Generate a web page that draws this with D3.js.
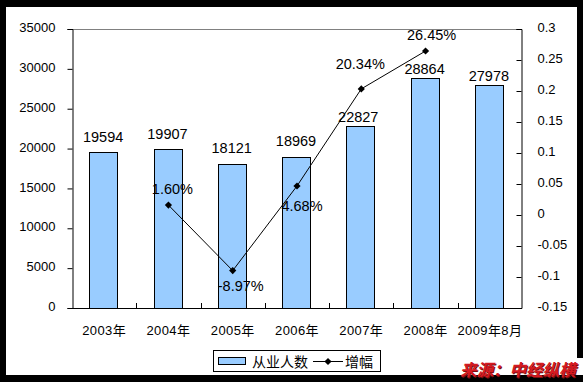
<!DOCTYPE html>
<html><head><meta charset="utf-8">
<script src="https://cdn.jsdelivr.net/npm/d3@7"></script>
<style>
html,body{margin:0;padding:0;background:#000;}
svg{display:block;}
</style></head><body>
<script>
// ---- data ----
const categories = ["2003年","2004年","2005年","2006年","2007年","2008年","2009年8月"];
const employees = [19594,19907,18121,18969,22827,28864,27978];
const growth = [null,0.016,-0.0897,0.0468,0.2034,0.2645,null];
const growthLabels = [null,"1.60%","-8.97%","4.68%","20.34%","26.45%",null];
const leftTicks = [0,5000,10000,15000,20000,25000,30000,35000];
const rightTicks = [-0.15,-0.1,-0.05,0,0.05,0.1,0.15,0.2,0.25,0.3];
const seriesNames = ["从业人数","增幅"];
const sourceText = "来源：中经纵横";

// ---- layout / style (not data) ----
const W=583,H=382;
const plot={l:72,r:522,t:29,b:308};
const barFill="#99CCFF";
const numFont="'Liberation Sans', Arial, sans-serif";
const cjkFont="'Liberation Sans', Arial, 'Noto Sans CJK SC', sans-serif";
const barLabelDy=[-10,-10,-11,-11,-4,-4,-3.5];
const barLabelDx=[0,0,0,0,-2,0,0];
const lineLabelOff=[null,[4,-11],[8,20],[5,25],[-1,-19.5],[6,-11.5],null];

const svg=d3.select("body").append("svg").attr("width",W).attr("height",H);
svg.append("rect").attr("width",W).attr("height",H).attr("fill","#000");
svg.append("rect").attr("x",6).attr("y",7).attr("width",571).attr("height",368).attr("fill","#fff");

const x=d3.scaleBand().domain(categories).range([plot.l,plot.r]).padding(0);
const y=d3.scaleLinear().domain([0,35000]).range([plot.b,plot.t]);
const y2=d3.scaleLinear().domain([-0.15,0.3]).range([plot.b,plot.t]);
const bw=x.bandwidth()*0.43;

svg.append("line").attr("x1",plot.l).attr("x2",plot.r).attr("y1",plot.t+0.5).attr("y2",plot.t+0.5)
  .attr("stroke","#808080");

svg.append("g").selectAll("rect").data(employees).join("rect")
  .attr("x",(d,i)=>Math.round(x(categories[i])+x.bandwidth()/2-bw/2-1)+0.5)
  .attr("y",d=>Math.round(y(d))+0.5)
  .attr("width",Math.round(bw))
  .attr("height",d=>plot.b-Math.round(y(d)))
  .attr("fill",barFill).attr("stroke","#000").attr("stroke-width",1);

const gl=svg.append("g").attr("transform",`translate(${plot.l+0.5},0)`)
  .call(d3.axisLeft(y).tickValues(leftTicks).tickSize(5).tickPadding(12).tickFormat(d=>String(d)));
gl.select(".domain").attr("stroke","#000");
gl.selectAll("text").attr("font-family",numFont).attr("font-size",13).attr("fill","#000").attr("dy","0.2em");
gl.selectAll(".tick line").attr("stroke","#000");

const gr=svg.append("g").attr("transform",`translate(${plot.r-0.5},0)`)
  .call(d3.axisRight(y2).tickValues(rightTicks).tickSize(-5).tickPadding(16).tickFormat(d=>String(+d.toFixed(2))));
gr.select(".domain").attr("stroke","#000");
gr.selectAll("text").attr("font-family",numFont).attr("font-size",13).attr("fill","#000").attr("dy","0.2em");
gr.selectAll(".tick line").attr("stroke","#000");

const gb=svg.append("g");
gb.append("line").attr("x1",plot.l).attr("x2",plot.r).attr("y1",plot.b+0.5).attr("y2",plot.b+0.5).attr("stroke","#000");
gb.selectAll("line.t").data(categories.slice(1)).join("line").attr("class","t")
  .attr("x1",d=>Math.round(x(d))+0.5).attr("x2",d=>Math.round(x(d))+0.5)
  .attr("y1",plot.b).attr("y2",plot.b-5).attr("stroke","#000");
gb.selectAll("text").data(categories).join("text")
  .attr("x",d=>x(d)+x.bandwidth()/2).attr("y",335)
  .attr("text-anchor","middle").attr("font-family",cjkFont).attr("font-size",13)
  .attr("letter-spacing","0.4px").text(d=>d);

svg.append("g").selectAll("text").data(employees).join("text")
  .attr("x",(d,i)=>x(categories[i])+x.bandwidth()/2-1+barLabelDx[i])
  .attr("y",(d,i)=>y(d)+barLabelDy[i])
  .attr("text-anchor","middle").attr("font-family",numFont).attr("font-size",14.5).text(d=>d);

const pts=growth.map((g,i)=>({g,i})).filter(d=>d.g!==null);
const line=d3.line().x(d=>x(categories[d.i])+x.bandwidth()/2).y(d=>y2(d.g));
svg.append("path").attr("d",line(pts)).attr("fill","none").attr("stroke","#000").attr("stroke-width",1);
const diamond="M0,-3.6L3.6,0L0,3.6L-3.6,0Z";
svg.append("g").selectAll("path").data(pts).join("path")
  .attr("transform",d=>`translate(${x(categories[d.i])+x.bandwidth()/2},${y2(d.g)})`)
  .attr("d",diamond).attr("fill","#000");
svg.append("g").selectAll("text").data(pts).join("text")
  .attr("x",d=>x(categories[d.i])+x.bandwidth()/2+lineLabelOff[d.i][0])
  .attr("y",d=>y2(d.g)+lineLabelOff[d.i][1])
  .attr("text-anchor","middle").attr("font-family",numFont).attr("font-size",14.5)
  .text(d=>growthLabels[d.i]);

const lg=svg.append("g");
lg.append("rect").attr("x",213.5).attr("y",350.5).attr("width",167).attr("height",21).attr("fill","#fff").attr("stroke","#000");
lg.append("rect").attr("x",218.5).attr("y",357.5).attr("width",27).attr("height",7).attr("fill",barFill).attr("stroke","#000");
lg.append("text").attr("x",252).attr("y",366.5).attr("font-family","'Noto Sans CJK SC',sans-serif").attr("font-size",14).text(seriesNames[0]);
lg.append("line").attr("x1",313).attr("x2",343).attr("y1",361.5).attr("y2",361.5).attr("stroke","#000");
lg.append("path").attr("transform","translate(328,361.5)").attr("d",diamond).attr("fill","#000");
lg.append("text").attr("x",345).attr("y",366.5).attr("font-family","'Noto Sans CJK SC',sans-serif").attr("font-size",14).text(seriesNames[1]);

svg.append("rect").attr("x",560).attr("y",358).attr("width",23).attr("height",17).attr("fill","#fff");
svg.append("text").attr("x",461).attr("y",377).attr("font-family","'Noto Sans CJK SC',sans-serif")
  .attr("font-size",16.5).attr("font-weight","bold").attr("font-style","italic")
  .attr("fill","#7a1010").text(sourceText);
svg.append("text").attr("x",460).attr("y",376).attr("font-family","'Noto Sans CJK SC',sans-serif")
  .attr("font-size",16.5).attr("font-weight","bold").attr("font-style","italic")
  .attr("fill","#D41A22").text(sourceText);
</script>
</body></html>
